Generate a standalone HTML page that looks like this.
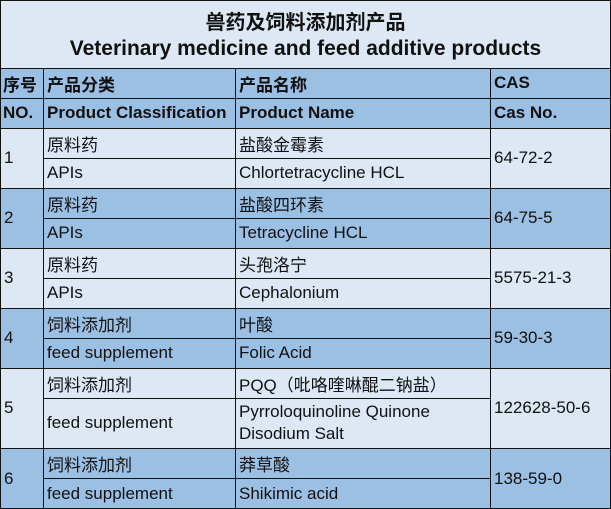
<!DOCTYPE html>
<html><head><meta charset="utf-8"><style>
body{margin:0;width:611px;height:509px;overflow:hidden;background:#fff;font-family:"Liberation Sans","Noto Sans CJK SC",sans-serif;}
.c{position:absolute;box-sizing:border-box;font-size:17px;color:#111;display:flex;align-items:center;padding-left:4px;white-space:nowrap;}
.L{background:#dde8f4}.D{background:#9cbfe4}
.h{position:absolute;background:#111;height:1px}
.v{position:absolute;background:#111;width:1px}
.b{font-weight:bold;font-size:17px}
</style></head><body>
<div class="c L" style="left:0;top:0;width:611px;height:68px;display:block;padding:0;text-align:center;font-weight:bold;">
<div style="font-size:20px;position:absolute;left:0;right:0;top:6px;">兽药及饲料添加剂产品</div>
<div style="font-size:21px;position:absolute;left:0;right:0;top:37px;">Veterinary medicine and feed additive products</div>
</div>
<div class="c D b" style="left:0;top:68px;width:43px;height:30px;padding-left:3px">序号</div>
<div class="c D b" style="left:43px;top:68px;width:192px;height:30px">产品分类</div>
<div class="c D b" style="left:235px;top:68px;width:255px;height:30px">产品名称</div>
<div class="c D b" style="left:490px;top:68px;width:121px;height:30px">CAS</div>
<div class="c D b" style="left:0;top:98px;width:43px;height:30px;padding-left:3px">NO.</div>
<div class="c D b" style="left:43px;top:98px;width:192px;height:30px">Product Classification</div>
<div class="c D b" style="left:235px;top:98px;width:255px;height:30px">Product Name</div>
<div class="c D b" style="left:490px;top:98px;width:121px;height:30px">Cas No.</div>

<div class="c L" style="left:0;top:128px;width:43px;height:60px">1</div>
<div class="c L" style="left:43px;top:128px;width:192px;height:30px">原料药</div>
<div class="c L" style="left:43px;top:158px;width:192px;height:30px">APIs</div>
<div class="c L" style="left:235px;top:128px;width:255px;height:30px">盐酸金霉素</div>
<div class="c L" style="left:235px;top:158px;width:255px;height:30px">Chlortetracycline HCL</div>
<div class="c L" style="left:490px;top:128px;width:121px;height:60px">64-72-2</div>

<div class="c D" style="left:0;top:188px;width:43px;height:60px">2</div>
<div class="c D" style="left:43px;top:188px;width:192px;height:30px">原料药</div>
<div class="c D" style="left:43px;top:218px;width:192px;height:30px">APIs</div>
<div class="c D" style="left:235px;top:188px;width:255px;height:30px">盐酸四环素</div>
<div class="c D" style="left:235px;top:218px;width:255px;height:30px">Tetracycline HCL</div>
<div class="c D" style="left:490px;top:188px;width:121px;height:60px">64-75-5</div>

<div class="c L" style="left:0;top:248px;width:43px;height:60px">3</div>
<div class="c L" style="left:43px;top:248px;width:192px;height:30px">原料药</div>
<div class="c L" style="left:43px;top:278px;width:192px;height:30px">APIs</div>
<div class="c L" style="left:235px;top:248px;width:255px;height:30px">头孢洛宁</div>
<div class="c L" style="left:235px;top:278px;width:255px;height:30px">Cephalonium</div>
<div class="c L" style="left:490px;top:248px;width:121px;height:60px">5575-21-3</div>

<div class="c D" style="left:0;top:308px;width:43px;height:60px">4</div>
<div class="c D" style="left:43px;top:308px;width:192px;height:30px">饲料添加剂</div>
<div class="c D" style="left:43px;top:338px;width:192px;height:30px">feed supplement</div>
<div class="c D" style="left:235px;top:308px;width:255px;height:30px">叶酸</div>
<div class="c D" style="left:235px;top:338px;width:255px;height:30px">Folic Acid</div>
<div class="c D" style="left:490px;top:308px;width:121px;height:60px">59-30-3</div>

<div class="c L" style="left:0;top:368px;width:43px;height:80px">5</div>
<div class="c L" style="left:43px;top:368px;width:192px;height:30px">饲料添加剂</div>
<div class="c L" style="left:43px;top:398px;width:192px;height:50px">feed supplement</div>
<div class="c L" style="left:235px;top:368px;width:255px;height:30px">PQQ（吡咯喹啉醌二钠盐）</div>
<div class="c L" style="left:235px;top:398px;width:255px;height:50px;line-height:22px;white-space:normal">Pyrroloquinoline Quinone<br>Disodium Salt</div>
<div class="c L" style="left:490px;top:368px;width:121px;height:80px">122628-50-6</div>

<div class="c D" style="left:0;top:448px;width:43px;height:61px">6</div>
<div class="c D" style="left:43px;top:448px;width:192px;height:30px">饲料添加剂</div>
<div class="c D" style="left:43px;top:478px;width:192px;height:31px">feed supplement</div>
<div class="c D" style="left:235px;top:448px;width:255px;height:30px">莽草酸</div>
<div class="c D" style="left:235px;top:478px;width:255px;height:31px">Shikimic acid</div>
<div class="c D" style="left:490px;top:448px;width:121px;height:61px">138-59-0</div>

<div class="h" style="left:0;top:0;width:611px"></div>
<div class="h" style="left:0;top:68px;width:611px"></div>
<div class="h" style="left:0;top:98px;width:611px"></div>
<div class="h" style="left:0;top:128px;width:611px"></div>
<div class="h" style="left:0;top:188px;width:611px"></div>
<div class="h" style="left:0;top:248px;width:611px"></div>
<div class="h" style="left:0;top:308px;width:611px"></div>
<div class="h" style="left:0;top:368px;width:611px"></div>
<div class="h" style="left:0;top:448px;width:611px"></div>
<div class="h" style="left:0;top:508px;width:611px"></div>
<div class="h" style="left:43px;top:158px;width:447px"></div>
<div class="h" style="left:43px;top:218px;width:447px"></div>
<div class="h" style="left:43px;top:278px;width:447px"></div>
<div class="h" style="left:43px;top:338px;width:447px"></div>
<div class="h" style="left:43px;top:398px;width:447px"></div>
<div class="h" style="left:43px;top:478px;width:447px"></div>
<div class="v" style="left:0;top:0;height:509px"></div>
<div class="v" style="left:610px;top:0;height:509px"></div>
<div class="v" style="left:43px;top:68px;height:441px"></div>
<div class="v" style="left:235px;top:68px;height:441px"></div>
<div class="v" style="left:490px;top:68px;height:441px"></div>
</body></html>
